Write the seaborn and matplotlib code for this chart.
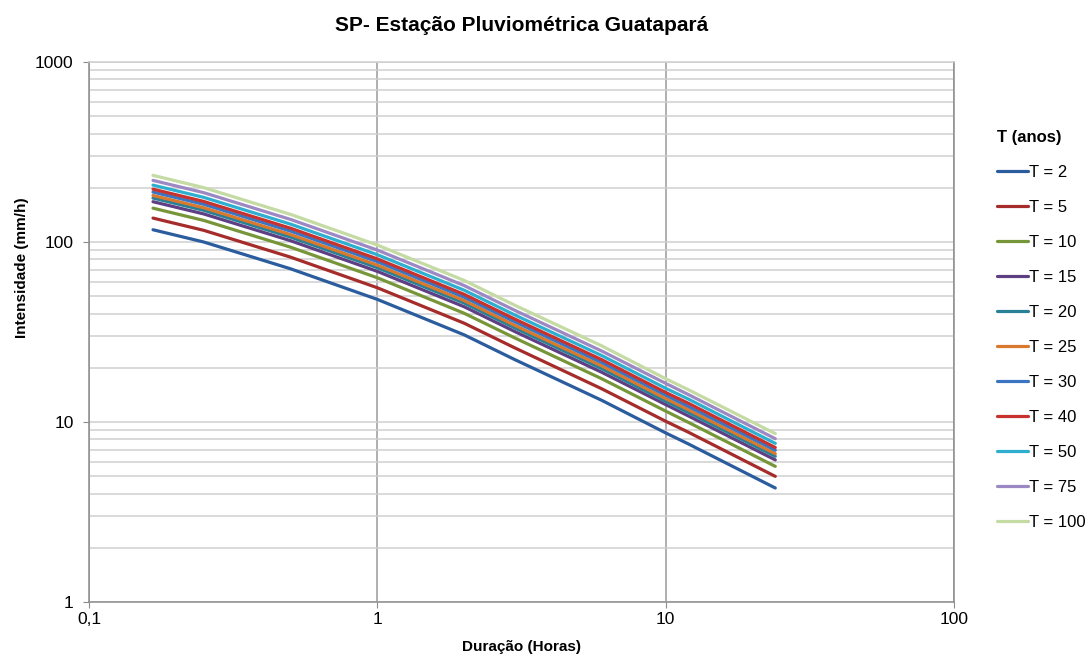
import pandas as pd
import matplotlib.pyplot as plt
import seaborn as sns
from matplotlib.ticker import LogLocator, NullFormatter

# durações (horas) e intensidades (mm/h)
duracao = [0.1667, 0.25, 0.5, 1, 2, 3, 6, 10, 12, 24]
t_labels = ["T = 2", "T = 5", "T = 10", "T = 15", "T = 20", "T = 25",
            "T = 30", "T = 40", "T = 50", "T = 75", "T = 100"]

i_t2 = [117, 100, 71, 48, 30.5, 22.2, 13.2, 8.7, 7.55, 4.3]
i_t5 = [135.8, 116.1, 82.4, 55.7, 35.4, 25.8, 15.3, 10.1, 8.77, 4.99]
i_t10 = [154.2, 131.8, 93.6, 63.3, 40.2, 29.3, 17.4, 11.5, 9.95, 5.67]
i_t15 = [167.5, 143.2, 101.7, 68.7, 43.7, 31.8, 18.9, 12.5, 10.8, 6.16]
i_t20 = [175.5, 150, 106.5, 72, 45.8, 33.3, 19.8, 13.05, 11.3, 6.45]
i_t25 = [181.4, 155, 110, 74.4, 47.3, 34.4, 20.5, 13.5, 11.7, 6.67]
i_t30 = [189.5, 162, 115, 77.8, 49.4, 36.0, 21.4, 14.1, 12.2, 6.97]
i_t40 = [196.6, 168, 119.3, 80.6, 51.2, 37.3, 22.2, 14.6, 12.7, 7.22]
i_t50 = [207, 177, 125.7, 85, 54, 39.3, 23.4, 15.4, 13.4, 7.61]
i_t75 = [220, 188, 133.5, 90.2, 57.3, 41.7, 24.8, 16.4, 14.2, 8.08]
i_t100 = [234.6, 200.5, 142.4, 96.2, 61.2, 44.5, 26.5, 17.4, 15.1, 8.62]

series = [i_t2, i_t5, i_t10, i_t15, i_t20, i_t25, i_t30, i_t40, i_t50, i_t75, i_t100]

cores = ["#2B5C9E", "#A52C2A", "#77963A", "#5E3F83", "#2A8096", "#D8792E",
         "#3B75C1", "#C8322E", "#2FAFD0", "#9C88C2", "#C4DBA4"]

rows = []
for lab, vals in zip(t_labels, series):
    for d, v in zip(duracao, vals):
        rows.append((lab, d, v))
df = pd.DataFrame(rows, columns=["T", "Duracao", "Intensidade"])

sns.set_style("white")
plt.rcParams['font.family'] = ['Liberation Sans', 'DejaVu Sans']
plt.rcParams['text.color'] = 'black'
plt.rcParams['axes.labelcolor'] = 'black'
plt.rcParams['xtick.color'] = 'black'
plt.rcParams['ytick.color'] = 'black'

fig = plt.figure(figsize=(10.91, 6.57), dpi=100)
ax = fig.add_axes([0.0816, 0.0837, 0.7928, 0.8219])

sns.lineplot(data=df, x="Duracao", y="Intensidade", hue="T", hue_order=t_labels,
             palette=cores, linewidth=2.3, ax=ax, sort=False)

ax.set_xscale("log")
ax.set_yscale("log")
ax.set_xlim(0.1, 100)
ax.set_ylim(1, 1000)

ax.set_xticks([0.1, 1, 10, 100])
ax.set_xticklabels(["0,1", "1", "10", "100"])
ax.set_yticks([1, 10, 100, 1000])
ax.set_yticklabels(["1", "10", "100", "1000"])
ax.xaxis.set_minor_locator(LogLocator(base=10, subs=[]))
ax.yaxis.set_minor_locator(LogLocator(base=10, subs=range(2, 10)))
ax.yaxis.set_minor_formatter(NullFormatter())
ax.xaxis.set_minor_formatter(NullFormatter())

ax.grid(True, axis="x", which="major", color="#9a9a9a", linewidth=1.1)
ax.grid(True, axis="y", which="both", color="#cfcfcf", linewidth=1.1)
ax.set_axisbelow(True)

for s in ["left", "bottom", "right", "top"]:
    ax.spines[s].set_color("#8c8c8c")
    ax.spines[s].set_linewidth(1.1)
ax.spines["top"].set_color("#cfcfcf")

ax.tick_params(axis="both", which="major", labelsize=12.5, length=4,
               color="#8c8c8c", direction="out", left=True, bottom=True)
ax.tick_params(axis="y", which="major", pad=7)
ax.tick_params(axis="y", which="minor", length=0)

ax.set_title("SP- Estação Pluviométrica Guatapará", fontsize=15,
             fontweight="bold", pad=22)
ax.set_xlabel("Duração (Horas)", fontsize=11, fontweight="bold", labelpad=9)
ax.set_ylabel("Intensidade (mm/h)", fontsize=11, fontweight="bold")
ax.yaxis.set_label_coords(-0.069, 0.62)

h, l = ax.get_legend_handles_labels()
leg = ax.legend(h, l, title="T (anos)", loc="upper left",
                bbox_to_anchor=(0.900, 0.825), bbox_transform=fig.transFigure,
                frameon=False, fontsize=12, title_fontsize=12,
                labelspacing=1.2, handlelength=1.85, handletextpad=0.1)
leg.get_title().set_fontweight("bold")
leg._legend_box.align = "left"

fig.savefig("out.png", dpi=100)
